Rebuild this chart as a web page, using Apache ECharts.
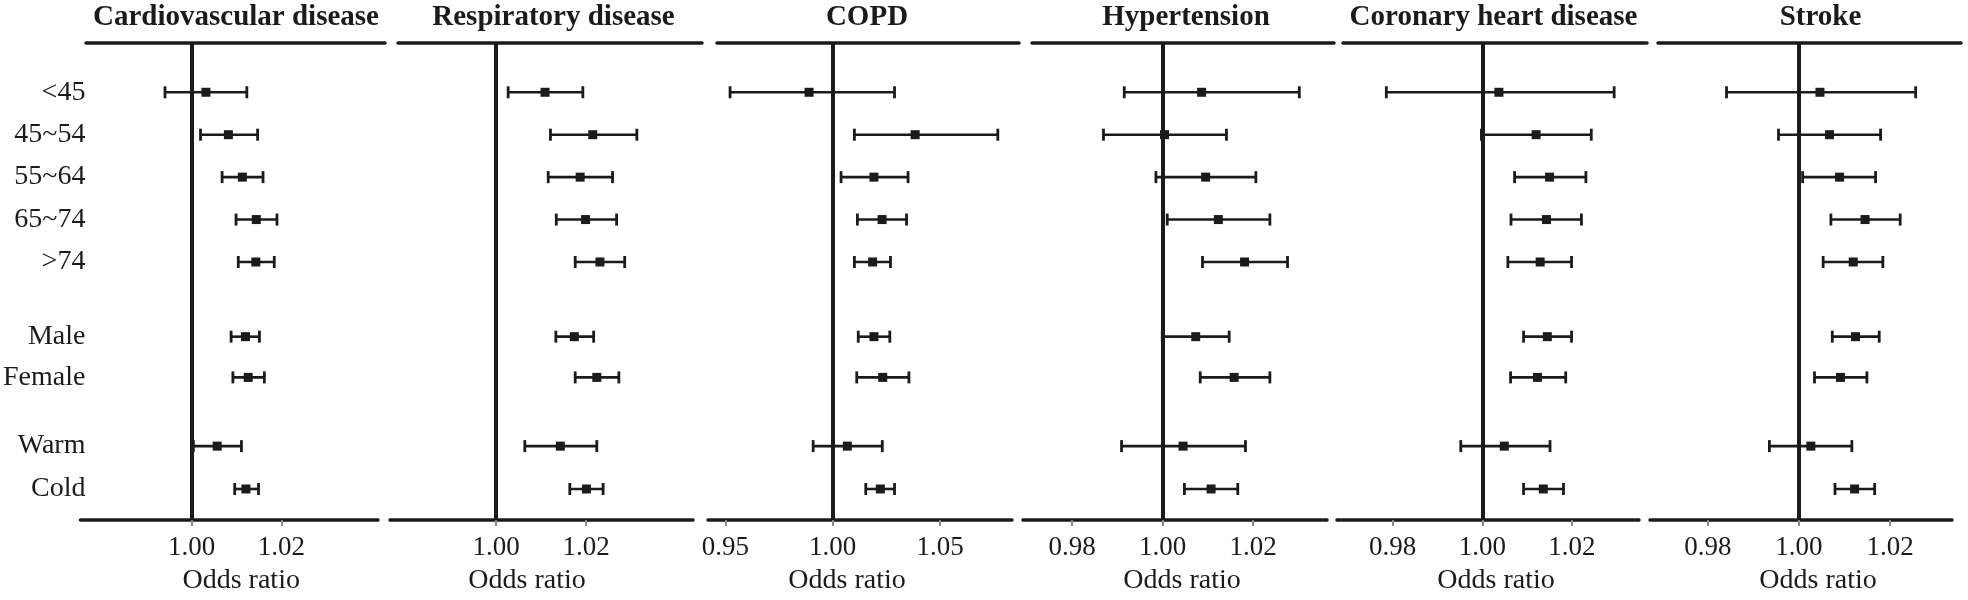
<!DOCTYPE html>
<html>
<head>
<meta charset="utf-8">
<script src="https://cdn.jsdelivr.net/npm/echarts@6/dist/echarts.min.js"></script>
<style>
html,body{margin:0;padding:0;background:#fff;}
#chart{width:1968px;height:600px;}
</style>
</head>
<body>
<div id="chart"></div>
<script>
// ---------------- data ----------------
const categories = ['<45', '45~54', '55~64', '65~74', '>74', 'Male', 'Female', 'Warm', 'Cold'];
const diseases = ['Cardiovascular disease', 'Respiratory disease', 'COPD', 'Hypertension', 'Coronary heart disease', 'Stroke'];

const cvdOR = [1.0032, 1.0082, 1.0113, 1.0144, 1.0143, 1.0120, 1.0126, 1.0057, 1.0121];
const cvdLo = [0.9941, 1.0020, 1.0068, 1.0099, 1.0104, 1.0088, 1.0092, 1.0004, 1.0096];
const cvdHi = [1.0123, 1.0147, 1.0159, 1.0190, 1.0184, 1.0151, 1.0162, 1.0111, 1.0149];

const respOR = [1.0109, 1.0215, 1.0187, 1.0199, 1.0231, 1.0174, 1.0224, 1.0143, 1.0201];
const respLo = [1.0027, 1.0121, 1.0116, 1.0134, 1.0176, 1.0133, 1.0176, 1.0064, 1.0164];
const respHi = [1.0193, 1.0313, 1.0259, 1.0268, 1.0286, 1.0217, 1.0273, 1.0224, 1.0238];

const copdOR = [0.9890, 1.0384, 1.0192, 1.0230, 1.0186, 1.0192, 1.0233, 1.0068, 1.0222];
const copdLo = [0.9522, 1.0101, 1.0039, 1.0115, 1.0101, 1.0119, 1.0112, 0.9909, 1.0154];
const copdHi = [1.0288, 1.0769, 1.0351, 1.0344, 1.0269, 1.0266, 1.0355, 1.0231, 1.0288];

const hypOR = [1.0086, 1.0004, 1.0095, 1.0123, 1.0181, 1.0073, 1.0158, 1.0045, 1.0107];
const hypLo = [0.9915, 0.9869, 0.9985, 1.0010, 1.0088, 0.9999, 1.0083, 0.9909, 1.0048];
const hypHi = [1.0302, 1.0141, 1.0206, 1.0237, 1.0276, 1.0147, 1.0237, 1.0183, 1.0166];

const chdOR = [1.0037, 1.0120, 1.0150, 1.0143, 1.0129, 1.0145, 1.0123, 1.0049, 1.0136];
const chdLo = [0.9786, 0.9998, 1.0072, 1.0064, 1.0057, 1.0092, 1.0063, 0.9952, 1.0092];
const chdHi = [1.0294, 1.0243, 1.0231, 1.0221, 1.0199, 1.0199, 1.0186, 1.0151, 1.0181];

const strokeOR = [1.0046, 1.0067, 1.0089, 1.0145, 1.0119, 1.0124, 1.0091, 1.0026, 1.0122];
const strokeLo = [0.9841, 0.9955, 1.0008, 1.0070, 1.0053, 1.0073, 1.0034, 0.9935, 1.0079];
const strokeHi = [1.0256, 1.0179, 1.0168, 1.0222, 1.0184, 1.0176, 1.0149, 1.0116, 1.0166];

const tickLabels = [
  [1.00, 1.02],
  [1.00, 1.02],
  [0.95, 1.00, 1.05],
  [0.98, 1.00, 1.02],
  [0.98, 1.00, 1.02],
  [0.98, 1.00, 1.02]
];
const referenceOR = 1.00;
const xAxisName = 'Odds ratio';

// ---------------- layout ----------------
const allOR = [cvdOR, respOR, copdOR, hypOR, chdOR, strokeOR];
const allLo = [cvdLo, respLo, copdLo, hypLo, chdLo, strokeLo];
const allHi = [cvdHi, respHi, copdHi, hypHi, chdHi, strokeHi];

const rowPos = [1, 2, 3, 4, 5, 6.76, 7.72, 9.34, 10.35];   // ordinal row slots on the y axis
const yMin = -0.173, yMax = 11.081;
const gridTop = 42.5, gridHeight = 484.5;
const panelLeft  = [78, 390, 708, 1023, 1337, 1650];
const panelWidth = [300, 303, 304, 304, 302, 302];
const topLeft    = [86, 398, 717, 1032, 1343, 1658];
const topWidth   = [299, 304, 302, 302, 304, 303];
const xMin = [0.97529, 0.97644, 0.94192, 0.96911, 0.9676, 0.96731];
const xMax = [1.04147, 1.04378, 1.08351, 1.03633, 1.03494, 1.03357];
const titleCx = [236, 553.5, 867, 1186, 1493.5, 1820.5];
const nameShift = [12, -14.5, -13, 7, 8, 17];

const INK = '#1b1b1b';
const FONT = '"Liberation Serif", "Times New Roman", serif';

const grids = [], xAxes = [], yAxes = [], series = [], titles = [];

for (let i = 0; i < 6; i++) {
  grids.push({left: panelLeft[i], width: panelWidth[i], top: gridTop, height: gridHeight, containLabel: false});
  const s = nameShift[i];
  xAxes.push({
    gridIndex: i, type: 'value', position: 'bottom',
    min: xMin[i], max: xMax[i],
    axisLine: {show: true, onZero: false, lineStyle: {color: INK, width: 3.5}},
    axisTick: {show: true, customValues: tickLabels[i], length: 6, lineStyle: {color: '#8a8a8a', width: 2}},
    axisLabel: {show: true, customValues: tickLabels[i], formatter: v => v.toFixed(2),
      color: INK, fontFamily: FONT, fontSize: 27, margin: 14},
    splitLine: {show: false},
    name: xAxisName, nameLocation: 'middle', nameGap: 47,
    nameTextStyle: {color: INK, fontFamily: FONT, fontSize: 28,
      padding: s >= 0 ? [0, 0, 0, 2 * s] : [0, -2 * s, 0, 0]}
  });
  yAxes.push({
    gridIndex: i, type: 'value', inverse: true, min: yMin, max: yMax,
    show: i === 0,
    axisLine: {show: false}, axisTick: {show: false}, splitLine: {show: false},
    axisLabel: {show: i === 0, customValues: rowPos, margin: -5,
      formatter: v => categories[rowPos.indexOf(v)] || '',
      color: INK, fontFamily: FONT, fontSize: 28, align: 'right'}
  });
  titles.push({
    text: diseases[i], left: titleCx[i], top: 3, textAlign: 'center', padding: 0,
    textStyle: {color: INK, fontFamily: FONT, fontSize: 29, fontWeight: 'bold'}
  });
  const data = categories.map((c, j) => [allLo[i][j], allOR[i][j], allHi[i][j], rowPos[j], c]);
  series.push({
    type: 'custom', xAxisIndex: i, yAxisIndex: i, clip: false, z: 3,
    encode: {x: [0, 1, 2], y: 3},
    data: data,
    renderItem: function (params, api) {
      const y = api.value(3);
      const lo = api.coord([api.value(0), y]);
      const pt = api.coord([api.value(1), y]);
      const hi = api.coord([api.value(2), y]);
      const cap = 6;
      return {type: 'group', children: [
        {type: 'line', shape: {x1: lo[0], y1: lo[1], x2: hi[0], y2: hi[1]}, style: {stroke: INK, lineWidth: 2.6}},
        {type: 'line', shape: {x1: lo[0], y1: lo[1] - cap, x2: lo[0], y2: lo[1] + cap}, style: {stroke: INK, lineWidth: 2.8}},
        {type: 'line', shape: {x1: hi[0], y1: hi[1] - cap, x2: hi[0], y2: hi[1] + cap}, style: {stroke: INK, lineWidth: 2.8}},
        {type: 'rect', shape: {x: pt[0] - 4.5, y: pt[1] - 4.5, width: 9, height: 9}, style: {fill: INK}}
      ]};
    }
  });
  series.push({
    type: 'scatter', xAxisIndex: i, yAxisIndex: i, data: [], z: 2,
    markLine: {silent: true, symbol: 'none', label: {show: false}, animation: false,
      lineStyle: {color: INK, width: 4, type: 'solid'},
      data: [{xAxis: referenceOR}]}
  });
}
// top frame lines of each panel
for (let i = 0; i < 6; i++) {
  grids.push({left: topLeft[i], width: topWidth[i], top: gridTop, height: gridHeight});
  xAxes.push({gridIndex: 6 + i, type: 'value', position: 'top', min: 0, max: 1,
    axisLine: {show: true, onZero: false, lineStyle: {color: INK, width: 3.5}},
    axisTick: {show: false}, axisLabel: {show: false}, splitLine: {show: false}});
  yAxes.push({gridIndex: 6 + i, type: 'value', show: false, splitLine: {show: false}});
}

const chart = echarts.init(document.getElementById('chart'), null, {renderer: 'canvas'});
chart.setOption({
  backgroundColor: '#ffffff',
  animation: false,
  title: titles,
  grid: grids,
  xAxis: xAxes,
  yAxis: yAxes,
  series: series
});
</script>
</body>
</html>
